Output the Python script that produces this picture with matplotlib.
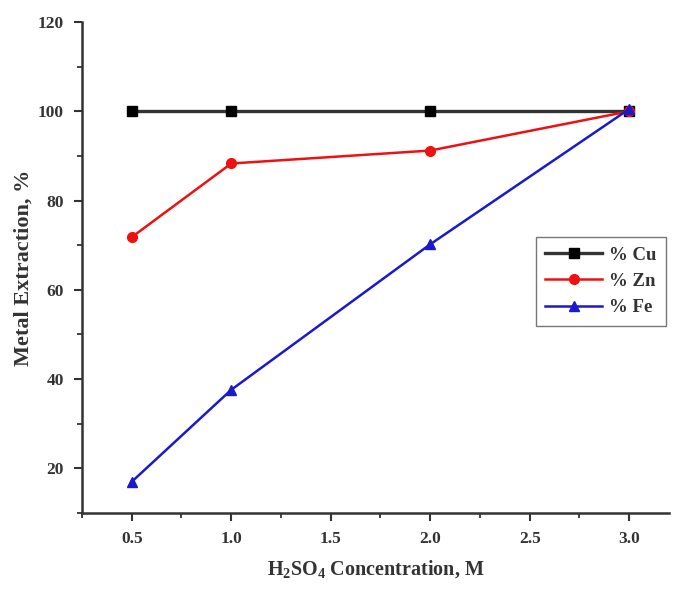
import matplotlib
matplotlib.use("Agg")
import matplotlib.pyplot as plt
from matplotlib.ticker import MultipleLocator

conc = [0.5, 1.0, 2.0, 3.0]
cu = [100, 100, 100, 100]
zn = [71.8, 88.3, 91.2, 100]
fe = [17.0, 37.6, 70.2, 100.5]

plt.rcParams['font.family'] = ['Liberation Serif', 'DejaVu Serif']
plt.rcParams['mathtext.fontset'] = 'custom'
plt.rcParams['mathtext.rm'] = 'Liberation Serif:bold'
plt.rcParams['mathtext.it'] = 'Liberation Serif:bold'
plt.rcParams['mathtext.bf'] = 'Liberation Serif:bold'

fig = plt.figure(figsize=(6.73, 5.89), dpi=100)
ax = fig.add_axes([82/673, 76/589, (669-82)/673, (513-22)/589])

ax.plot(conc, cu, color='#333333', lw=2.4, marker='s', ms=6.5, mfc='black', mec='black', label='% Cu')
ax.plot(conc, zn, color='#ee1111', lw=1.8, marker='o', ms=7, mfc='#ee1111', mec='#ee1111', label='% Zn')
ax.plot(conc, fe, color='#1a1acc', lw=1.8, marker='^', ms=7.5, mfc='#1a1acc', mec='#1a1acc', label='% Fe')

ax.set_xlim(0.25, 3.2)
ax.set_ylim(10, 120)
ax.xaxis.set_major_locator(MultipleLocator(0.5))
ax.xaxis.set_minor_locator(MultipleLocator(0.25))
ax.yaxis.set_major_locator(MultipleLocator(20))
ax.yaxis.set_minor_locator(MultipleLocator(10))
ax.set_xticks([0.5, 1.0, 1.5, 2.0, 2.5, 3.0])
ax.set_xticklabels(['0.5', '1.0', '1.5', '2.0', '2.5', '3.0'])
ax.set_yticks([20, 40, 60, 80, 100, 120])

for s in ['top', 'right']:
    ax.spines[s].set_visible(False)
for s in ['left', 'bottom']:
    ax.spines[s].set_color('#333333')
    ax.spines[s].set_linewidth(1.8)

ax.tick_params(which='major', direction='out', length=6, width=1.5, color='#333333',
               labelsize=12.5, labelcolor='#333333', pad=7)
ax.tick_params(which='minor', direction='out', length=3.5, width=1.3, color='#333333')
for lab in ax.get_xticklabels() + ax.get_yticklabels():
    lab.set_fontweight('bold')

ax.set_ylabel('Metal Extraction, %', fontsize=16, fontweight='bold', color='#333333', labelpad=3)
ax.set_xlabel(r'H$_2$SO$_4$ Concentration, M', fontsize=14.5, fontweight='bold', color='#333333', labelpad=8)

leg = ax.legend(loc='upper left', bbox_to_anchor=(536/673, 1-237/589), bbox_transform=fig.transFigure,
                fancybox=False, frameon=True, edgecolor='#555555',
                prop={'weight': 'bold', 'size': 13.5}, handlelength=3.0, borderpad=0.5,
                labelspacing=0.5, handletextpad=0.4, borderaxespad=0)
leg.get_frame().set_linewidth(1.0)
for t in leg.get_texts():
    t.set_color('#333333')

fig.savefig('out.png', dpi=100)
